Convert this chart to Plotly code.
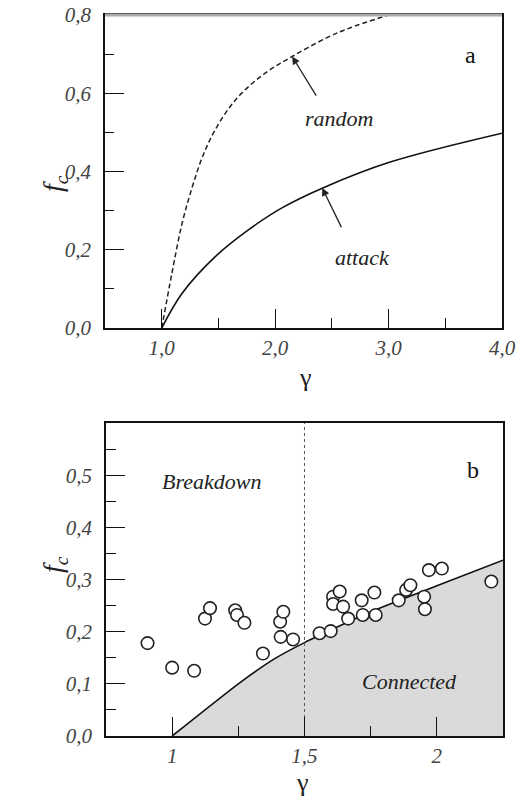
import plotly.graph_objects as go

# ---- Panel a data ----
gamma_attack = [1.0, 1.18, 1.47, 1.77, 2.06, 2.42, 3.0, 4.0]
fc_attack = [0.0, 0.089, 0.182, 0.252, 0.307, 0.358, 0.423, 0.498]
gamma_random = [1.0, 1.09, 1.18, 1.27, 1.36, 1.47, 1.65, 1.89, 2.15, 2.47, 2.65, 3.0]
fc_random = [0.0, 0.14, 0.268, 0.361, 0.438, 0.506, 0.583, 0.647, 0.694, 0.744, 0.766, 0.8]

# ---- Panel b data ----
gamma_curve = [1.0, 1.25, 1.38, 1.5, 1.75, 2.0, 2.25]
fc_curve = [0.0, 0.1, 0.146, 0.179, 0.238, 0.288, 0.337]
gamma_obs = [0.907, 1.0, 1.083, 1.124, 1.143, 1.238, 1.245, 1.273, 1.343, 1.408,
             1.42, 1.41, 1.457, 1.557, 1.599, 1.608, 1.633, 1.608, 1.646, 1.665,
             1.716, 1.72, 1.764, 1.769, 1.856, 1.884, 1.9, 1.952, 1.955, 1.97,
             2.019, 2.206]
fc_obs = [0.178, 0.131, 0.125, 0.225, 0.245, 0.241, 0.232, 0.217, 0.158, 0.219,
          0.238, 0.19, 0.185, 0.197, 0.201, 0.267, 0.277, 0.253, 0.248, 0.225,
          0.26, 0.232, 0.275, 0.232, 0.26, 0.28, 0.289, 0.267, 0.243, 0.318,
          0.321, 0.296]

a_xticks = [1.0, 2.0, 3.0, 4.0]
a_yticks = [0.0, 0.2, 0.4, 0.6, 0.8]
b_xticks = [1, 1.5, 2]
b_xlabels = ["1", "1,5", "2"]
b_yticks = [0.0, 0.1, 0.2, 0.3, 0.4, 0.5]

SERIF = "Liberation Serif"
tickfont = dict(family=SERIF, size=21, color="#444", style="italic")

W, H = 525, 804

fig = go.Figure()

fig.add_trace(go.Scatter(x=gamma_random, y=fc_random, mode="lines",
                         line=dict(color="#222", width=1.5, dash="5px,3px", shape="spline", smoothing=1.0),
                         xaxis="x", yaxis="y", showlegend=False))
fig.add_trace(go.Scatter(x=gamma_attack, y=fc_attack, mode="lines",
                         line=dict(color="#111", width=1.6, shape="spline", smoothing=1.0),
                         xaxis="x", yaxis="y", showlegend=False))

fig.add_trace(go.Scatter(x=gamma_curve, y=fc_curve, mode="lines", fill="tozeroy",
                         fillcolor="#dadada",
                         line=dict(color="#111", width=1.6, shape="spline", smoothing=0.6),
                         xaxis="x2", yaxis="y2", showlegend=False))
fig.add_trace(go.Scatter(x=[1.5, 1.5], y=[0, 0.6], mode="lines",
                         line=dict(color="#555", width=1, dash="dot"),
                         xaxis="x2", yaxis="y2", showlegend=False))
fig.add_trace(go.Scatter(x=gamma_obs, y=fc_obs, mode="markers",
                         marker=dict(symbol="circle", size=12.5, color="white",
                                     line=dict(color="#222", width=1.6)),
                         xaxis="x2", yaxis="y2", showlegend=False, cliponaxis=False))

axis_common = dict(showline=True, linecolor="#111", linewidth=1.5, mirror=True,
                   ticks="inside", tickcolor="#111", tickwidth=1.2, ticklen=19,
                   showgrid=False, zeroline=False, tickfont=tickfont, automargin=False,
                   ticklabeloverflow="allow")

fig.update_layout(
    width=W, height=H,
    margin=dict(l=0, r=0, t=0, b=0),
    paper_bgcolor="white", plot_bgcolor="white",
    separators=", ",
    hovermode=False,
    xaxis=dict(domain=[0.2, 0.9562], range=[0.5, 4.0], anchor="y",
               tickvals=a_xticks, tickformat=".1f",
               minor=dict(ticks="inside", ticklen=10, dtick=0.5, tick0=0, tickcolor="#111", tickwidth=1.2),
               **axis_common),
    yaxis=dict(domain=[0.592, 0.9813], range=[0, 0.8], anchor="x",
               tickvals=a_yticks, tickformat=".1f", ticklabelstandoff=8,
               minor=dict(ticks="inside", ticklen=9, dtick=0.1, tick0=0, tickcolor="#111", tickwidth=1.2),
               **axis_common),
    xaxis2=dict(domain=[0.2019, 0.9581], range=[0.75, 2.25], anchor="y2",
                tickvals=b_xticks, ticktext=b_xlabels,
                minor=dict(ticks="inside", ticklen=10, dtick=0.25, tick0=0, tickcolor="#111", tickwidth=1.2),
                **axis_common),
    yaxis2=dict(domain=[0.0846, 0.4739], range=[0, 0.6], anchor="x2",
                tickvals=b_yticks, tickformat=".1f", ticklabelstandoff=8,
                minor=dict(ticks="inside", ticklen=10, dtick=0.05, tick0=0, tickcolor="#111", tickwidth=1.2),
                **axis_common),
)

# grey top border of panel a
fig.add_shape(type="line", xref="x domain", yref="y domain", x0=0, x1=1, y0=1, y1=1,
              line=dict(color="#aaa", width=3))

annots = [
    dict(x=3.72, y=0.698, xref="x", yref="y", text="a", showarrow=False,
         font=dict(family=SERIF, size=24, color="#111")),
    dict(x=2.56, y=0.535, xref="x", yref="y", text="random", showarrow=False,
         font=dict(family=SERIF, size=22, color="#222", style="italic")),
    dict(x=2.77, y=0.18, xref="x", yref="y", text="attack", showarrow=False,
         font=dict(family=SERIF, size=22, color="#222", style="italic")),
    dict(x=2.15, y=0.694, xref="x", yref="y", ax=2.37, ay=0.59, axref="x", ayref="y",
         text="", showarrow=True, arrowhead=2, arrowsize=1.2, arrowwidth=1.3, arrowcolor="#222"),
    dict(x=2.415, y=0.358, xref="x", yref="y", ax=2.59, ay=0.254, axref="x", ayref="y",
         text="", showarrow=True, arrowhead=2, arrowsize=1.2, arrowwidth=1.3, arrowcolor="#222"),
    dict(x=2.136, y=0.51, xref="x2", yref="y2", text="b", showarrow=False,
         font=dict(family=SERIF, size=24, color="#111")),
    dict(x=1.15, y=0.487, xref="x2", yref="y2", text="Breakdown", showarrow=False,
         font=dict(family=SERIF, size=22, color="#222", style="italic")),
    dict(x=1.898, y=0.105, xref="x2", yref="y2", text="Connected", showarrow=False,
         font=dict(family=SERIF, size=22, color="#222", style="italic")),
    dict(x=0.581, y=0.531, xref="paper", yref="paper", text="γ", showarrow=False,
         font=dict(family=SERIF, size=26, color="#222")),
    dict(x=0.577, y=0.006, xref="paper", yref="paper", yanchor="bottom", text="γ",
         showarrow=False, font=dict(family=SERIF, size=26, color="#222")),
    dict(x=0.0667, y=0.7848, xref="paper", yref="paper", text="<i>f<sub>c</sub></i>",
         textangle=-90, showarrow=False, font=dict(family=SERIF, size=28, color="#222")),
    dict(x=0.0667, y=0.2848, xref="paper", yref="paper", text="<i>f<sub>c</sub></i>",
         textangle=-90, showarrow=False, font=dict(family=SERIF, size=28, color="#222")),
]
fig.update_layout(annotations=annots)

fig.write_html("out.html", config=dict(displayModeBar=False),
               post_script="document.body.style.margin='0';")
